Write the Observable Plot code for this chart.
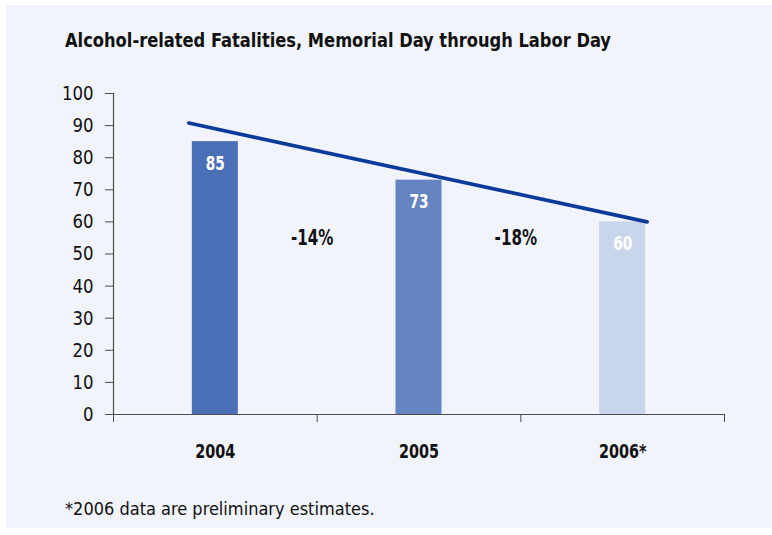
<!DOCTYPE html>
<html>
<head>
<meta charset="utf-8">
<script src="https://cdn.jsdelivr.net/npm/d3@7"></script>
<script src="https://cdn.jsdelivr.net/npm/@observablehq/plot@0.6"></script>
<style>
  html, body { margin: 0; padding: 0; background: #ffffff; }
  body { width: 772px; height: 535px; position: relative; overflow: hidden;
         font-family: "DejaVu Sans Condensed", "Liberation Sans", sans-serif; }
  #panel { position: absolute; left: 6px; top: 5px; width: 766px; height: 523px; background: #f1f4fa; }
  #title { position: absolute; left: 65px; top: 30px; font-size: 20px; font-weight: bold; line-height: 1; color: #111; white-space: nowrap;
           transform: scaleX(0.905); transform-origin: left center; }
  #chart { position: absolute; left: 0; top: 70px; }
  #note { position: absolute; left: 65px; top: 500px; font-size: 18px; line-height: 1; color: #111; white-space: nowrap; }
</style>
</head>
<body>
<div id="panel"></div>
<div id="title">Alcohol-related Fatalities, Memorial Day through Labor Day</div>
<div id="chart"></div>
<div id="note">*2006 data are preliminary estimates.</div>
<script>
const categories = ["2004", "2005", "2006*"];
const values = [85, 73, 60];
const changeLabels = ["-14%", "-18%"];
const trendX = [0.37, 2.62];
const trendY = [90.8, 60];
const yTicks = [0, 10, 20, 30, 40, 50, 60, 70, 80, 90, 100];

const barColors = ["#4a6fb6", "#6584c2", "#c9d5ea"];
const halfBar = 0.113;
const changeLabelY = 55;
const font = '"DejaVu Sans Condensed", "Liberation Sans", sans-serif';
const axisColor = "#4d4d4d";

const bars = categories.map((c, i) => ({category: c, index: i, value: values[i]}));
const changes = changeLabels.map((t, i) => ({label: t, boundary: i + 1}));
const trend = trendX.map((x, i) => ({x, y: trendY[i]}));
const boundaries = d3.range(categories.length + 1);

const chart = Plot.plot({
  width: 772,
  height: 400,
  marginTop: 23,
  marginBottom: 56,
  marginLeft: 113,
  marginRight: 48,
  style: {background: "transparent", fontFamily: font, color: "#111"},
  x: {domain: [0, categories.length], axis: null},
  y: {domain: [0, 100], axis: null},
  color: {domain: categories, range: barColors},
  marks: [
    Plot.rectY(bars, {x1: d => d.index + 0.5 - halfBar, x2: d => d.index + 0.5 + halfBar, y1: 0, y2: "value", fill: "category"}),
    Plot.ruleY([0], {stroke: axisColor, strokeWidth: 1.2}),
    Plot.ruleX([0], {y1: 0, y2: 100, stroke: axisColor, strokeWidth: 1.2}),
    Plot.axisY({ticks: yTicks, tickSize: 8, tickPadding: 12, fontSize: 20, stroke: axisColor, fill: "#111", label: null}),
    Plot.axisX({ticks: boundaries, tickSize: 8, tickFormat: () => "", stroke: axisColor, label: null}),
    Plot.axisX({ticks: categories.map((c, i) => i + 0.5), tickSize: 0, tickPadding: 29,
      tickFormat: v => categories[Math.floor(v)], fontSize: 20, fontWeight: "bold", fill: "#111", label: null}),
    Plot.line(trend, {x: "x", y: "y", stroke: "#0b3a9a", strokeWidth: 3.7}),
    Plot.text(bars, {x: d => d.index + 0.5, y: "value", text: d => String(d.value), dy: 22, fill: "white", fontSize: 19, fontWeight: "bold"}),
    Plot.text(changes, {x: "boundary", y: () => changeLabelY, text: "label", dx: -5, fill: "#111", fontSize: 21, fontWeight: "bold"})
  ]
});
document.getElementById("chart").appendChild(chart);
// narrow the glyphs to approximate the condensed face of the original
chart.querySelectorAll("text").forEach(t => {
  if (!t.textContent) return;
  const bold = t.closest('[font-weight="bold"]');
  const s = bold ? 0.8 : 0.92;
  const w = t.getComputedTextLength();
  if (w > 0) {
    t.setAttribute("textLength", (w * s).toFixed(2));
    t.setAttribute("lengthAdjust", "spacingAndGlyphs");
  }
});
</script>
</body>
</html>
